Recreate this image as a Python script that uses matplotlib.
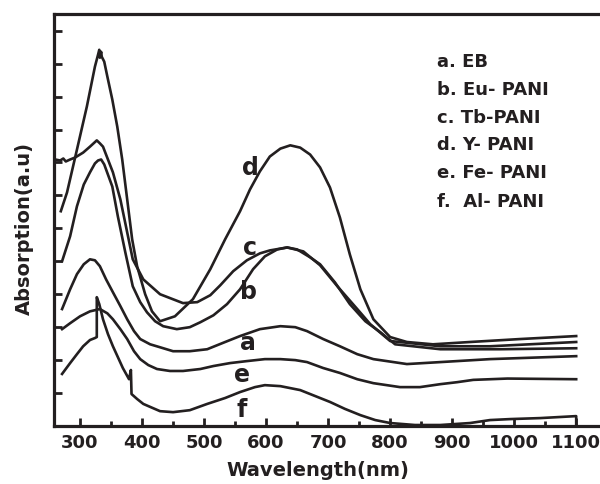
import numpy as np
import matplotlib
matplotlib.use('Agg')
import matplotlib.pyplot as plt

# UV-vis absorption spectra (wavelength in nm, absorption in a.u.)
wl_d = [269, 279, 295, 311, 324, 329, 331, 332, 334, 335, 339, 344, 352, 360, 368, 376, 384, 392,
        405, 416, 429, 453, 482, 510, 534, 558, 574, 590, 606, 623, 639, 655, 671, 687, 703, 719,
        735, 752, 773, 800, 827, 869, 929, 1010, 1100]
ab_d = [0.652, 0.709, 0.839, 0.970, 1.091, 1.127, 1.142, 1.118, 1.136, 1.121, 1.106, 1.061, 0.991,
        0.909, 0.809, 0.688, 0.567, 0.485, 0.400, 0.348, 0.318, 0.333, 0.385, 0.476, 0.567, 0.652,
        0.718, 0.773, 0.818, 0.842, 0.852, 0.845, 0.824, 0.785, 0.724, 0.633, 0.521, 0.415, 0.324,
        0.270, 0.255, 0.248, 0.255, 0.264, 0.273]

wl_c = [260, 268, 273, 277, 284, 292, 305, 316, 327, 332, 337, 345, 353, 365, 376, 385, 402, 429,
        466, 489, 510, 526, 547, 569, 590, 606, 634, 660, 687, 715, 747, 768, 800, 881, 961, 1100]
ab_c = [0.809, 0.806, 0.812, 0.803, 0.809, 0.815, 0.830, 0.848, 0.867, 0.858, 0.848, 0.809, 0.770,
        0.688, 0.588, 0.506, 0.445, 0.400, 0.373, 0.376, 0.397, 0.427, 0.470, 0.503, 0.524, 0.533,
        0.542, 0.530, 0.488, 0.424, 0.355, 0.309, 0.258, 0.242, 0.242, 0.255]

wl_b = [271, 284, 295, 306, 316, 324, 329, 334, 339, 352, 361, 373, 385, 397, 408, 421, 434, 456,
        477, 494, 515, 537, 558, 579, 598, 618, 634, 650, 671, 687, 711, 735, 760, 784, 808, 881,
        977, 1100]
ab_b = [0.500, 0.576, 0.667, 0.733, 0.770, 0.797, 0.806, 0.809, 0.794, 0.727, 0.636, 0.527, 0.424,
        0.376, 0.345, 0.318, 0.303, 0.294, 0.300, 0.315, 0.336, 0.370, 0.415, 0.476, 0.515, 0.536,
        0.542, 0.536, 0.512, 0.491, 0.436, 0.370, 0.318, 0.285, 0.248, 0.233, 0.233, 0.236]

wl_a = [271, 284, 295, 306, 316, 324, 332, 342, 353, 365, 376, 387, 397, 413, 429, 450, 477, 505,
        534, 558, 590, 623, 647, 666, 692, 719, 747, 773, 827, 881, 961, 1100]
ab_a = [0.355, 0.415, 0.461, 0.491, 0.506, 0.503, 0.485, 0.445, 0.406, 0.364, 0.324, 0.288, 0.264,
        0.248, 0.239, 0.227, 0.227, 0.233, 0.255, 0.273, 0.294, 0.303, 0.300, 0.288, 0.264, 0.242,
        0.218, 0.203, 0.188, 0.194, 0.203, 0.212]

wl_e = [271, 284, 300, 316, 332, 344, 353, 365, 376, 387, 397, 410, 424, 445, 466, 494, 515, 542,
        569, 598, 623, 647, 666, 692, 719, 747, 773, 816, 848, 881, 908, 934, 989, 1100]
ab_e = [0.294, 0.312, 0.333, 0.348, 0.355, 0.342, 0.324, 0.294, 0.264, 0.227, 0.203, 0.185, 0.173,
        0.167, 0.167, 0.173, 0.182, 0.191, 0.197, 0.203, 0.203, 0.200, 0.194, 0.176, 0.161, 0.142,
        0.130, 0.118, 0.118, 0.127, 0.133, 0.140, 0.144, 0.142]

wl_f = [271, 284, 295, 305, 316, 324, 327, 327, 331, 337, 345, 353, 361, 369, 379, 382, 383, 392,
        402, 413, 429, 450, 477, 505, 534, 558, 582, 598, 623, 655, 679, 703, 727, 752, 776, 800,
        840, 881, 929, 961, 994, 1042, 1100, 1100]
ab_f = [0.158, 0.191, 0.218, 0.242, 0.261, 0.267, 0.270, 0.391, 0.370, 0.324, 0.279, 0.242, 0.209,
        0.176, 0.142, 0.170, 0.097, 0.082, 0.067, 0.058, 0.045, 0.042, 0.048, 0.067, 0.085, 0.103,
        0.118, 0.124, 0.121, 0.109, 0.091, 0.073, 0.052, 0.033, 0.018, 0.009, 0.003, 0.003, 0.009,
        0.018, 0.021, 0.024, 0.030, 0.0]

# curve letter and where it sits
curve_labels = ['d', 'c', 'b', 'a', 'e', 'f']
label_wl = [574, 574, 571, 571, 561, 561]
label_ab = [0.785, 0.542, 0.409, 0.255, 0.158, 0.052]

legend_lines = ['a. EB', 'b. Eu- PANI', 'c. Tb-PANI', 'd. Y- PANI', 'e. Fe- PANI', 'f.  Al- PANI']

ink = '#231f20'
plt.rcParams['font.family'] = 'DejaVu Sans'
plt.rcParams['font.weight'] = 'bold'

fig = plt.figure(figsize=(6, 4.85), dpi=100)
ax = fig.add_axes([0.09, 0.1196, 0.922, 0.849])

for wl, ab in [(wl_a, ab_a), (wl_b, ab_b), (wl_c, ab_c), (wl_d, ab_d), (wl_e, ab_e), (wl_f, ab_f)]:
    ax.plot(wl, ab, color=ink, lw=1.9, solid_joinstyle='round')

for lab, x, y in zip(curve_labels, label_wl, label_ab):
    ax.text(x, y, lab, fontsize=17, fontweight='bold', color=ink, ha='center', va='center')

legend_y = [0.886, 0.818, 0.750, 0.684, 0.617, 0.546]
for txt, y in zip(legend_lines, legend_y):
    ax.text(0.693, y, txt, transform=ax.transAxes, fontsize=13, fontweight='bold',
            color=ink, ha='left', va='center')

ax.set_xlim(258, 1150)
ax.set_ylim(0, 1.25)
ax.set_xticks(np.arange(300, 1101, 100))
ax.set_xticks(np.arange(350, 1101, 100), minor=True)
ax.set_yticks(np.arange(0.1, 1.21, 0.1))
ax.set_yticklabels([])
ax.tick_params(axis='both', which='major', direction='in', color=ink, width=2, length=6,
               labelsize=13, labelcolor=ink, pad=5)
ax.tick_params(axis='x', which='minor', direction='in', color=ink, width=2, length=3.5)
for lbl in ax.get_xticklabels():
    lbl.set_fontweight('bold')

for side in ['left', 'bottom', 'top', 'right']:
    ax.spines[side].set_linewidth(2.3)
    ax.spines[side].set_color(ink)

ax.set_xlabel('Wavelength(nm)', fontsize=14, fontweight='bold', color=ink)
ax.set_ylabel('Absorption(a.u)', fontsize=14, fontweight='bold', color=ink)
ax.xaxis.set_label_coords(0.477, -0.083)
ax.yaxis.set_label_coords(-0.036, 0.483)

plt.savefig('out.png', dpi=100)
